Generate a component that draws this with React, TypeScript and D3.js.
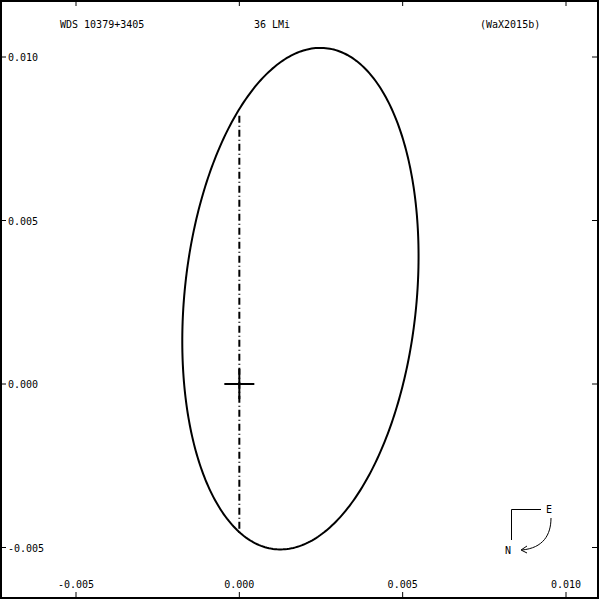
import React from "react";
import * as d3 from "d3";

// Tick values / labels
const xTicks = [-0.005, 0.0, 0.005, 0.01];
const yTicks = [-0.005, 0.0, 0.005, 0.01];
const titleLeft = "WDS 10379+3405";
const titleMid = "36 LMi";
const titleRight = "(WaX2015b)";

// Apparent orbit ellipse (data units, arcsec)
const ellipseCenter = [0.00187, 0.00261];
const ellipseSemiMajor = 0.0077;
const ellipseSemiMinor = 0.00355;
const ellipseAngleDeg = 84.2;

// Line of nodes endpoints (x, y)
const nodeLine = [
  [0.0, 0.0082],
  [0.0, -0.00457],
];

const W = 600;
const H = 600;

export default function App() {
  const x = d3.scaleLinear().domain([-0.005, 0.01]).range([76, 566]);
  const y = d3.scaleLinear().domain([-0.005, 0.01]).range([547.5, 57]);

  const phi = (ellipseAngleDeg * Math.PI) / 180;
  const pts: [number, number][] = d3.range(0, 361, 1).map((deg) => {
    const t = (deg * Math.PI) / 180;
    const ex = ellipseSemiMajor * Math.cos(t);
    const ey = ellipseSemiMinor * Math.sin(t);
    const dx = ex * Math.cos(phi) - ey * Math.sin(phi);
    const dy = ex * Math.sin(phi) + ey * Math.cos(phi);
    return [x(ellipseCenter[0] + dx), y(ellipseCenter[1] + dy)];
  });
  const line = d3.line().curve(d3.curveLinearClosed);

  const font = "'DejaVu Sans Mono', monospace";
  const fmt = (v: number) => v.toFixed(3);
  const ox = x(0);
  const oy = y(0);

  return (
    <svg
      width={W}
      height={H}
      style={{ position: "absolute", left: 0, top: 0, background: "#fff" }}
    >
      <rect x={0} y={0} width={W} height={H} fill="#fff" />
      <rect x={1} y={1} width={597} height={597} fill="none" stroke="#000" strokeWidth={2} />
      {xTicks.map((v) => (
        <g key={"x" + v}>
          <line x1={x(v)} x2={x(v)} y1={597} y2={592} stroke="#000" strokeWidth={1} />
          <line x1={x(v)} x2={x(v)} y1={1} y2={6} stroke="#000" strokeWidth={1} />
          <text x={x(v)} y={588} fontFamily={font} fontSize={10} textAnchor="middle">
            {fmt(v)}
          </text>
        </g>
      ))}
      {yTicks.map((v) => (
        <g key={"y" + v}>
          <line x1={1} x2={6} y1={y(v)} y2={y(v)} stroke="#000" strokeWidth={1} />
          <line x1={597} x2={592} y1={y(v)} y2={y(v)} stroke="#000" strokeWidth={1} />
          <text x={8} y={y(v) + 4} fontFamily={font} fontSize={10} textAnchor="start">
            {fmt(v)}
          </text>
        </g>
      ))}
      <text x={60} y={28} fontFamily={font} fontSize={10}>{titleLeft}</text>
      <text x={254} y={28} fontFamily={font} fontSize={10}>{titleMid}</text>
      <text x={480} y={28} fontFamily={font} fontSize={10}>{titleRight}</text>

      <path d={line(pts) || ""} fill="none" stroke="#000" strokeWidth={2} />
      <line
        x1={x(nodeLine[0][0])}
        y1={y(nodeLine[0][1])}
        x2={x(nodeLine[1][0])}
        y2={y(nodeLine[1][1])}
        stroke="#000"
        strokeWidth={2}
        strokeDasharray="7 3 1 3"
      />
      <line x1={ox - 15} x2={ox + 15} y1={oy} y2={oy} stroke="#000" strokeWidth={2} />
      <line x1={ox} x2={ox} y1={oy - 15} y2={oy + 15} stroke="#000" strokeWidth={2} />

      {/* compass */}
      <path d="M541,509.5 L511.5,509.5 L511.5,540" fill="none" stroke="#000" strokeWidth={1} />
      <text x={549} y={513} fontFamily={font} fontSize={10} textAnchor="middle">E</text>
      <text x={508} y={554} fontFamily={font} fontSize={10} textAnchor="middle">N</text>
      <path d="M551,518 C551,535 543,548 522,550" fill="none" stroke="#000" strokeWidth={1} />
      <path d="M527,546 L521,550 L527,553" fill="none" stroke="#000" strokeWidth={1} />
    </svg>
  );
}
